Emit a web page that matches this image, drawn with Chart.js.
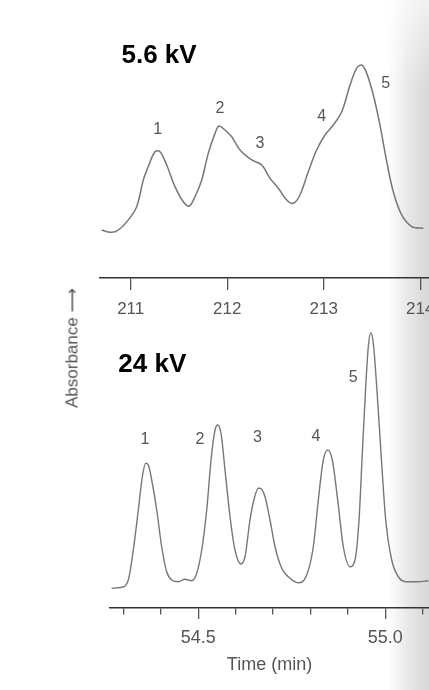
<!DOCTYPE html>
<html>
<head>
<meta charset="utf-8">
<script src="https://cdn.jsdelivr.net/npm/chart.js@4.4.0/dist/chart.umd.min.js"></script>
<style>
  html, body { margin:0; padding:0; background:#fff; }
  #page { position:relative; width:429px; height:690px; overflow:hidden; background:#fff; }
  #shade { position:absolute; left:0; top:0; width:429px; height:690px;
           background:linear-gradient(to right, rgba(220,220,220,0) 0px, rgba(220,220,220,0) 388px, #e8e8e8 408px, #d6d6d6 429px);
           -webkit-mask-image:linear-gradient(to bottom, rgba(0,0,0,0.35) 0px, #000 90px, #000 690px);
           mask-image:linear-gradient(to bottom, rgba(0,0,0,0.35) 0px, #000 90px, #000 690px); }
  canvas { position:absolute; left:0; }
  .ptitle { position:absolute; font-family:"Liberation Sans", Arial, sans-serif; font-weight:bold;
            font-size:26px; line-height:26px; color:#000; white-space:nowrap; }
  #ytitle { position:absolute; left:71.5px; top:347.5px; transform:translate(-50%,-50%) rotate(-90deg);
            font-family:"Liberation Sans", "DejaVu Sans", sans-serif; font-size:17px; color:#555; white-space:nowrap; }
</style>
</head>
<body>
<div id="page">
  <div id="shade"></div>
  <canvas id="top" width="429" height="330" style="top:0px"></canvas>
  <canvas id="bot" width="429" height="360" style="top:330px"></canvas>
  <div class="ptitle" id="t1" style="left:121.5px; top:41px;">5.6 kV</div>
  <div class="ptitle" id="t2" style="left:118.3px; top:350px;">24 kV</div>
  <div id="ytitle">Absorbance ⟶</div>
</div>
<script>
// ---------- data: 5.6 kV run ----------
const topTime = [210.699,210.765,210.837,210.910,210.975,211.062,211.131,211.182,211.252,211.304,
                 211.373,211.459,211.545,211.607,211.666,211.736,211.804,211.874,211.915,211.977,
                 212.047,212.133,212.254,212.358,212.444,212.530,212.617,212.685,212.754,212.840,
                 212.927,213.013,213.099,213.187,213.273,213.342,213.394,213.446,213.514,213.583,
                 213.653,213.721,213.808,213.912,214.032];
const topAbs  = [0.000,-0.012,-0.011,0.019,0.063,0.146,0.313,0.396,0.489,0.489,
                 0.406,0.271,0.177,0.150,0.208,0.313,0.479,0.604,0.650,0.625,
                 0.583,0.500,0.438,0.406,0.323,0.261,0.188,0.167,0.219,0.364,
                 0.500,0.594,0.656,0.739,0.906,1.011,1.031,0.979,0.844,0.656,
                 0.427,0.239,0.094,0.021,0.011];
const topTicks = [211, 212, 213, 214];
const topPeakLabels = ['1','2','3','4','5'];
const topPeakTime   = [211.280, 211.925, 212.340, 212.979, 213.642];
const topPeakAbs    = [0.625, 0.761, 0.542, 0.708, 0.917];

// ---------- data: 24 kV run ----------
const botTime = [54.2684,54.2952,54.3128,54.3262,54.3396,54.3503,54.3594,54.3663,54.3754,54.3888,
                 54.4021,54.4155,54.4289,54.4465,54.4644,54.4824,54.4957,54.5091,54.5225,54.5340,
                 54.5447,54.5519,54.5607,54.5714,54.5848,54.5981,54.6142,54.6249,54.6382,54.6497,
                 54.6604,54.6650,54.6783,54.6917,54.7051,54.7230,54.7406,54.7674,54.7898,54.8075,
                 54.8209,54.8342,54.8460,54.8583,54.8727,54.8877,54.9056,54.9190,54.9297,54.9385,
                 54.9476,54.9545,54.9610,54.9679,54.9770,54.9885,55.0011,55.0171,55.0348,55.0572,
                 55.0882,55.1150];
const botAbs  = [-0.025,-0.021,0.008,0.128,0.288,0.421,0.475,0.468,0.408,0.288,
                 0.141,0.041,0.008,0.001,0.011,0.005,0.035,0.128,0.288,0.488,
                 0.608,0.628,0.595,0.448,0.261,0.128,0.072,0.101,0.248,0.335,
                 0.375,0.375,0.341,0.248,0.141,0.055,0.021,-0.003,0.028,0.141,
                 0.328,0.488,0.528,0.488,0.328,0.141,0.061,0.088,0.248,0.515,
                 0.781,0.941,0.997,0.955,0.781,0.515,0.248,0.088,0.021,0.001,
                 0.001,0.005];
const botTicks = [54.3,54.4,54.5,54.6,54.7,54.8,54.9,55.0,55.1];
const botMajor = [54.5, 55.0];
const botPeakLabels = ['1','2','3','4','5'];
const botPeakTime   = [54.3575, 54.5045, 54.6578, 54.8147, 54.9144];
const botPeakAbs    = [0.568, 0.571, 0.579, 0.581, 0.819];

const LINE = '#777777';
const FONT = '"Liberation Sans", Arial, sans-serif';

function toXY(xs, ys) { return xs.map((x, i) => ({x: x, y: ys[i]})); }

const peakLabelPlugin = {
  id: 'peakLabels',
  afterDatasetsDraw(chart, args, opts) {
    const ctx = chart.ctx, xs = chart.scales.x, ys = chart.scales.y;
    ctx.save();
    ctx.font = opts.size + 'px ' + FONT;
    ctx.fillStyle = opts.color;
    ctx.textAlign = 'center';
    ctx.textBaseline = 'middle';
    opts.labels.forEach((t, i) => {
      ctx.fillText(t, xs.getPixelForValue(opts.times[i]), ys.getPixelForValue(opts.values[i]));
    });
    ctx.restore();
  }
};

function isMajor(v) { return botMajor.some(m => Math.abs(m - v) < 1e-6); }

new Chart(document.getElementById('top'), {
  type: 'line',
  data: { datasets: [{ data: toXY(topTime, topAbs), borderColor: LINE, borderWidth: 1.5,
                       pointRadius: 0, fill: false, tension: 0.35 }] },
  options: {
    responsive: false, animation: false,
    layout: { padding: { left: 100, right: 0, top: 0, bottom: 0 } },
    plugins: { legend: { display: false }, tooltip: { enabled: false },
               peakLabels: { labels: topPeakLabels, times: topPeakTime, values: topPeakAbs, size: 16, color: '#555' } },
    scales: {
      x: {
        type: 'linear', min: 210.682, max: 214.091,
        afterBuildTicks: s => { s.ticks = topTicks.map(v => ({ value: v })); },
        afterFit: s => { s.height = 52; s.paddingLeft = 0; s.paddingRight = 0; },
        grid: { drawOnChartArea: false, drawTicks: true, tickLength: 12, color: '#555', lineWidth: 1.3 },
        border: { display: true, color: '#333', width: 1.5 },
        ticks: { font: { family: FONT, size: 17 }, color: '#555', padding: 9, autoSkip: false, maxRotation: 0,
                 callback: v => String(v) }
      },
      y: { display: false, min: -0.3, max: 1.4375 }
    }
  },
  plugins: [peakLabelPlugin]
});

new Chart(document.getElementById('bot'), {
  type: 'line',
  data: { datasets: [{ data: toXY(botTime, botAbs), borderColor: LINE, borderWidth: 1.4,
                       pointRadius: 0, fill: false, tension: 0.3, cubicInterpolationMode: 'monotone' }] },
  options: {
    responsive: false, animation: false,
    layout: { padding: { left: 110, right: 0, top: 0, bottom: 0 } },
    plugins: { legend: { display: false }, tooltip: { enabled: false },
               peakLabels: { labels: botPeakLabels, times: botPeakTime, values: botPeakAbs, size: 16, color: '#555' } },
    scales: {
      x: {
        type: 'linear', min: 54.2639, max: 55.1168,
        afterBuildTicks: s => { s.ticks = botTicks.map(v => ({ value: v })); },
        afterFit: s => { s.height = 82; s.paddingLeft = 0; s.paddingRight = 0; },
        grid: { drawOnChartArea: false, drawTicks: true, tickLength: 11, color: '#555', lineWidth: 1.3,
                tickBorderDash: c => (c.tick && isMajor(c.tick.value)) ? [] : [6, 30] },
        border: { display: true, color: '#333', width: 1.5 },
        ticks: { font: { family: FONT, size: 18 }, color: '#555', padding: 8, autoSkip: false, maxRotation: 0,
                 callback: v => isMajor(v) ? v.toFixed(1) : '' },
        title: { display: true, text: 'Time (min)', font: { family: FONT, size: 18 }, color: '#555',
                 padding: { top: 14, bottom: 14 } }
      },
      y: { display: false, min: -0.104, max: 1.008 }
    }
  },
  plugins: [peakLabelPlugin]
});
</script>
</body>
</html>
